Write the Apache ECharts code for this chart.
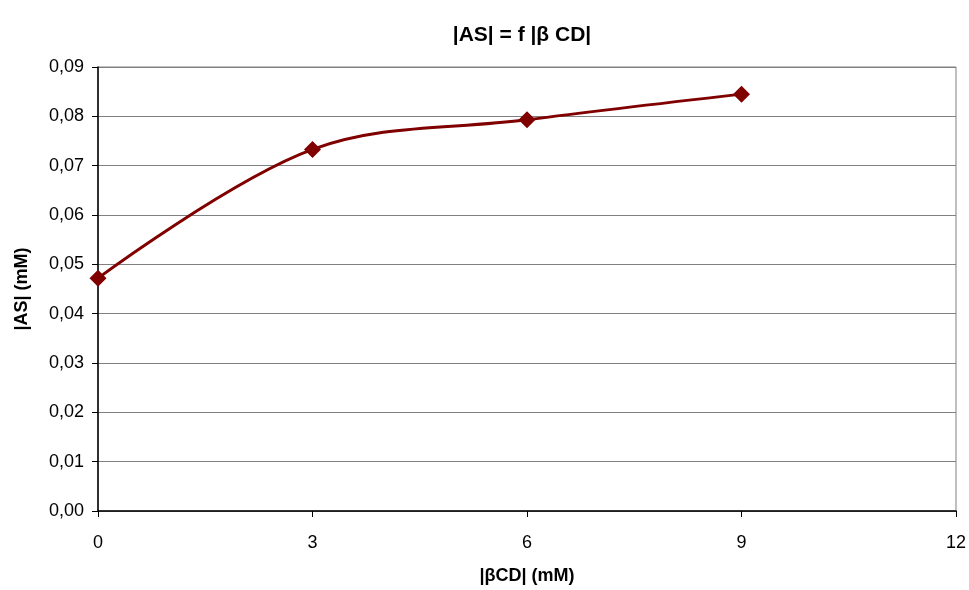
<!DOCTYPE html>
<html>
<head>
<meta charset="utf-8">
<script src="https://cdn.jsdelivr.net/npm/echarts@6/dist/echarts.min.js"></script>
<style>
  html, body { margin: 0; padding: 0; background: #fff; }
  #chart { width: 969px; height: 590px; }
</style>
</head>
<body>
<div id="chart"></div>
<script>
// β-cyclodextrin concentration (mM) and measured |AS| (mM)
const betaCD = [0, 3, 6, 9];
const asConc = [0.0472, 0.0733, 0.0793, 0.0845];
const xTicks = [0, 3, 6, 9, 12];
const yTicks = [0, 0.01, 0.02, 0.03, 0.04, 0.05, 0.06, 0.07, 0.08, 0.09];

const chart = echarts.init(document.getElementById('chart'));
const font = 'Liberation Sans, Arial, sans-serif';

chart.setOption({
  animation: false,
  title: {
    text: '|AS| = f |β CD|',
    left: 517,
    top: 20,
    textAlign: 'center',
    textStyle: { fontFamily: font, fontSize: 21, fontWeight: 'bold', color: '#000' }
  },
  grid: {
    left: 98, right: 13, top: 67, bottom: 77,
    show: true, borderColor: '#808080', borderWidth: 1, backgroundColor: '#fff'
  },
  xAxis: {
    type: 'value',
    min: xTicks[0], max: xTicks[xTicks.length - 1], interval: 3,
    name: '|βCD| (mM)',
    nameLocation: 'middle',
    nameGap: 56,
    nameTextStyle: { fontFamily: font, fontSize: 18, fontWeight: 'bold', color: '#000' },
    axisLine: { lineStyle: { color: '#000', width: 1.5 } },
    axisTick: { show: true, length: 6, lineStyle: { color: '#000' } },
    axisLabel: { fontFamily: font, fontSize: 18, color: '#000', margin: 23 },
    splitLine: { show: false }
  },
  yAxis: {
    type: 'value',
    min: yTicks[0], max: yTicks[yTicks.length - 1], interval: 0.01,
    name: '|AS| (mM)',
    nameLocation: 'middle',
    nameGap: 67,
    nameTextStyle: { fontFamily: font, fontSize: 18, fontWeight: 'bold', color: '#000' },
    axisLine: { show: true, lineStyle: { color: '#000', width: 1.5 } },
    axisTick: { show: true, length: 6, lineStyle: { color: '#000' } },
    axisLabel: {
      fontFamily: font, fontSize: 18, color: '#000', margin: 14,
      formatter: v => v.toFixed(2).replace('.', ',')
    },
    splitLine: { show: true, lineStyle: { color: '#808080', width: 1 } }
  },
  series: [{
    type: 'line',
    data: betaCD.map((x, i) => [x, asConc[i]]),
    smooth: 0.35,
    symbol: 'diamond',
    symbolSize: 17,
    lineStyle: { color: '#800000', width: 3 },
    itemStyle: { color: '#800000' }
  }]
});
</script>
</body>
</html>
